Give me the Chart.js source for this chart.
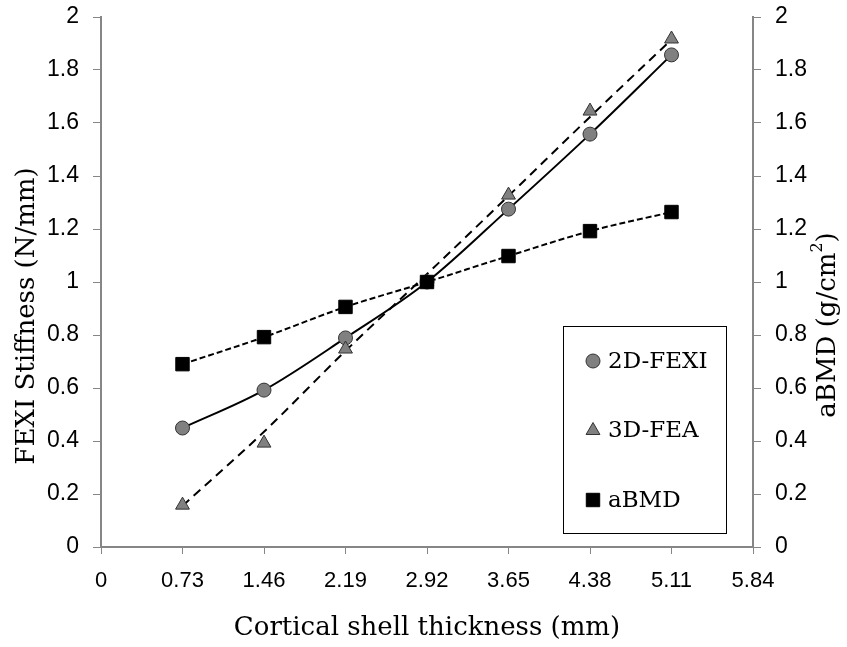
<!DOCTYPE html>
<html>
<head>
<meta charset="utf-8">
<script src="https://cdn.jsdelivr.net/npm/chart.js@4/dist/chart.umd.min.js"></script>
<style>
  html, body { margin: 0; padding: 0; background: #fff; }
  #wrap { width: 847px; height: 647px; }
</style>
</head>
<body>
<div id="wrap"><canvas id="stiffnessChart" width="847" height="647"></canvas></div>
<script>
// values
const thickness = [0.73, 1.46, 2.19, 2.92, 3.65, 4.38, 5.11];
const fexi2d = [0.449, 0.592, 0.789, 1.0, 1.275, 1.558, 1.857];
const fea3d = [0.158, 0.392, 0.747, 1.0, 1.328, 1.645, 1.917];
const abmd = [0.69, 0.792, 0.906, 1.0, 1.098, 1.192, 1.264];
const fea3dTrend = [0.155, 0.435, 0.74, 1.03, 1.325, 1.623, 1.915]; // dashed trendline
const xTicks = [0, 0.73, 1.46, 2.19, 2.92, 3.65, 4.38, 5.11, 5.84];
const seriesNames = ['2D-FEXI', '3D-FEA', 'aBMD'];

const toPoints = ys => thickness.map((x, i) => ({ x: x, y: ys[i] }));

const serifFont = "'DejaVu Serif', serif";
const sansFont = "'Liberation Sans', Arial, sans-serif";

// legend box drawn inside the plot, bottom right
const boxLegend = {
    id: 'boxLegend',
    afterDraw(chart) {
        const { ctx, chartArea } = chart;
        const w = 163, h = 207;
        const x0 = chartArea.right - 27 - w;
        const y0 = chartArea.bottom - 14 - h;
        ctx.save();
        ctx.fillStyle = '#fff';
        ctx.fillRect(x0, y0, w, h);
        ctx.strokeStyle = '#000';
        ctx.lineWidth = 1;
        ctx.strokeRect(x0 + 0.5, y0 + 0.5, w, h);

        const markers = chart.data.datasets.filter(d => d.isMarker);
        markers.forEach((ds, i) => {
            const cy = y0 + 35 + i * 69.5;
            ctx.fillStyle = ds.pointBackgroundColor;
            ctx.strokeStyle = ds.pointBorderColor;
            ctx.lineWidth = ds.pointBorderWidth;
            Chart.helpers.drawPoint(ctx, {
                pointStyle: ds.pointStyle,
                radius: ds.pointRadius,
                borderWidth: ds.pointBorderWidth,
                rotation: 0
            }, x0 + 30, cy);
            ctx.fillStyle = '#000';
            ctx.font = '23px ' + serifFont;
            ctx.textBaseline = 'middle';
            ctx.textAlign = 'left';
            ctx.fillText(ds.label, x0 + 45, cy + 1);
        });
        ctx.restore();
    }
};

// both y axis titles, reading bottom to top; the right one has a superscript
function drawVerticalTitle(ctx, parts, cx, cy) {
    ctx.save();
    let total = 0;
    parts.forEach(p => {
        ctx.font = p.size + 'px ' + serifFont;
        p.w = ctx.measureText(p.t).width;
        total += p.w;
    });
    ctx.translate(cx, cy);
    ctx.rotate(-Math.PI / 2);
    ctx.fillStyle = '#000';
    ctx.textBaseline = 'middle';
    ctx.textAlign = 'left';
    let x = -total / 2;
    parts.forEach(p => {
        ctx.font = p.size + 'px ' + serifFont;
        ctx.fillText(p.t, x, p.dy);
        x += p.w;
    });
    ctx.restore();
}

const axisTitles = {
    id: 'axisTitles',
    afterDraw(chart) {
        const { ctx, chartArea } = chart;
        const mid = (chartArea.top + chartArea.bottom) / 2;
        drawVerticalTitle(ctx, [
            { t: 'FEXI Stiffness (N/mm)', size: 26, dy: 0 }
        ], 27, mid + 34);
        drawVerticalTitle(ctx, [
            { t: 'aBMD (g/cm', size: 26, dy: 0 },
            { t: '2', size: 16, dy: -10 },
            { t: ')', size: 26, dy: 0 }
        ], 828, mid + 43);
    }
};

const axisGrey = '#868686';

// fixed axis widths so the plot area sits where the reference has it
const fitY = w => s => {
    s.width = w;
    s.paddingTop = 0;
    s.paddingBottom = 0;
};

const ctx = document.getElementById('stiffnessChart').getContext('2d');

new Chart(ctx, {
    type: 'scatter',
    data: {
        datasets: [
            {
                label: '2D-FEXI line',
                data: toPoints(fexi2d),
                showLine: true,
                borderColor: '#000',
                borderWidth: 2,
                cubicInterpolationMode: 'monotone',
                pointRadius: 0,
                yAxisID: 'y',
                order: 5
            },
            {
                label: '3D-FEA line',
                data: toPoints(fea3dTrend),
                showLine: true,
                borderColor: '#000',
                borderWidth: 2,
                borderDash: [9, 6],
                cubicInterpolationMode: 'monotone',
                pointRadius: 0,
                yAxisID: 'y',
                order: 5
            },
            {
                label: 'aBMD line',
                data: toPoints(abmd),
                showLine: true,
                borderColor: '#000',
                borderWidth: 2,
                borderDash: [6, 3],
                cubicInterpolationMode: 'monotone',
                pointRadius: 0,
                yAxisID: 'y2',
                order: 5
            },
            {
                label: seriesNames[0],
                isMarker: true,
                data: toPoints(fexi2d),
                pointStyle: 'circle',
                pointRadius: 7,
                pointBackgroundColor: '#808080',
                pointBorderColor: '#333',
                pointBorderWidth: 1,
                yAxisID: 'y',
                order: 3
            },
            {
                label: seriesNames[1],
                isMarker: true,
                data: toPoints(fea3d),
                pointStyle: 'triangle',
                pointRadius: 8,
                pointBackgroundColor: '#808080',
                pointBorderColor: '#333',
                pointBorderWidth: 1,
                yAxisID: 'y',
                order: 2
            },
            {
                label: seriesNames[2],
                isMarker: true,
                data: toPoints(abmd),
                pointStyle: 'rect',
                pointRadius: 9.5,
                pointBackgroundColor: '#000',
                pointBorderColor: '#000',
                pointBorderWidth: 1,
                yAxisID: 'y2',
                order: 1
            }
        ]
    },
    options: {
        responsive: false,
        animation: false,
        layout: { padding: { top: 17, left: 0, right: 0, bottom: 0 } },
        plugins: {
            legend: { display: false },
            tooltip: { enabled: false }
        },
        scales: {
            x: {
                type: 'linear',
                min: 0,
                max: 5.84,
                afterBuildTicks: s => { s.ticks = xTicks.map(v => ({ value: v })); },
                afterFit: s => { s.height = 100; },
                grid: { drawOnChartArea: false, color: axisGrey, tickLength: 7 },
                border: { color: axisGrey, width: 2 },
                ticks: {
                    autoSkip: false,
                    maxRotation: 0,
                    color: '#000',
                    padding: 14,
                    font: { family: sansFont, size: 22 },
                    callback: v => String(v)
                },
                title: {
                    display: true,
                    text: 'Cortical shell thickness (mm)',
                    color: '#000',
                    font: { family: serifFont, size: 26 },
                    padding: { top: 0, bottom: 3 }
                }
            },
            y: {
                position: 'left',
                min: 0,
                max: 2,
                afterFit: fitY(101),
                grid: { drawOnChartArea: false, color: axisGrey, tickLength: 8 },
                border: { color: axisGrey, width: 2 },
                ticks: {
                    stepSize: 0.2,
                    color: '#000',
                    padding: 14,
                    font: { family: sansFont, size: 23 },
                    callback: v => String(Math.round(v * 10) / 10)
                }
            },
            y2: {
                position: 'right',
                min: 0,
                max: 2,
                afterFit: fitY(94),
                grid: { drawOnChartArea: false, color: axisGrey, tickLength: 8 },
                border: { color: axisGrey, width: 2 },
                ticks: {
                    stepSize: 0.2,
                    color: '#000',
                    padding: 14,
                    font: { family: sansFont, size: 23 },
                    callback: v => String(Math.round(v * 10) / 10)
                }
            }
        }
    },
    plugins: [boxLegend, axisTitles]
});
</script>
</body>
</html>
